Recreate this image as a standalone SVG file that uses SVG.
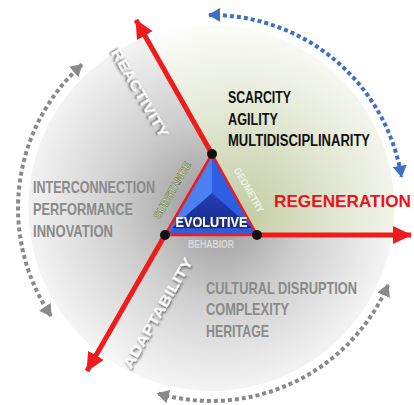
<svg xmlns="http://www.w3.org/2000/svg" width="414" height="405" viewBox="0 0 414 405">
<style>
.t{font-family:"Liberation Sans",Arial,sans-serif;font-weight:bold}
.dg{fill:none;stroke:#8a8a8a;stroke-width:4;stroke-dasharray:4 3}
.db{fill:none;stroke:#3f6fc6;stroke-width:4;stroke-dasharray:4 3}
.ra{stroke:#ee1c1c;stroke-width:5;fill:none}
</style>
<defs>
<radialGradient id="gG" gradientUnits="userSpaceOnUse" cx="240" cy="215" r="195">
<stop offset="0" stop-color="#c2cca2"/><stop offset="0.55" stop-color="#e4e9d6"/><stop offset="1" stop-color="#fdfdfb"/>
</radialGradient>
<radialGradient id="gL" gradientUnits="userSpaceOnUse" cx="205" cy="205" r="190">
<stop offset="0" stop-color="#9a9a9a"/><stop offset="0.45" stop-color="#cdcdcd"/><stop offset="1" stop-color="#f8f8f8"/>
</radialGradient>
<radialGradient id="gB" gradientUnits="userSpaceOnUse" cx="220" cy="220" r="185">
<stop offset="0" stop-color="#9a9a9a"/><stop offset="0.45" stop-color="#cfcfcf"/><stop offset="1" stop-color="#fafafa"/>
</radialGradient>
<linearGradient id="gD" x1="0" y1="0" x2="0" y2="1">
<stop offset="0" stop-color="#2440b8"/><stop offset="1" stop-color="#172a8a"/>
</linearGradient>
<marker id="mr" markerUnits="userSpaceOnUse" markerWidth="20" markerHeight="18" refX="18" refY="9" orient="auto">
<path d="M0,0 L19,9 L0,18 Z" fill="#ee1c1c"/>
</marker>
<marker id="mg" markerUnits="userSpaceOnUse" markerWidth="14" markerHeight="14" refX="11" refY="7" orient="auto-start-reverse">
<path d="M0,0 L12,7 L0,14 Z" fill="#8a8a8a"/>
</marker>
<marker id="mb" markerUnits="userSpaceOnUse" markerWidth="14" markerHeight="14" refX="11" refY="7" orient="auto-start-reverse">
<path d="M0,0 L12,7 L0,14 Z" fill="#3f6fc6"/>
</marker>
<filter id="sh" x="-20%" y="-50%" width="140%" height="200%">
<feDropShadow dx="-1" dy="1.5" stdDeviation="0.8" flood-color="#333" flood-opacity="0.8"/>
</filter>
</defs>
<rect width="414" height="405" fill="#ffffff"/>
<g id="sectors">
<path d="M212,154 L144.8,37.5 A183,183 0 0 1 392.3,235 L257,235 Z" fill="url(#gG)"/>
<path d="M165,235 L97.7,351.5 A183,183 0 0 1 144.8,37.5 L212,154 Z" fill="url(#gL)"/>
<path d="M257,235 L392.3,235 A183,183 0 0 1 97.7,351.5 L165,235 Z" fill="url(#gB)"/>
</g>
<g id="connectors">
<path class="ra" d="M212,154 L136,20" marker-end="url(#mr)"/>
<path class="ra" d="M257,235 L411,235" marker-end="url(#mr)"/>
<path class="ra" d="M165,235 L87,371" marker-end="url(#mr)"/>
<path class="dg" d="M51,315.9 A193,193 0 0 1 81.9,64.6" marker-start="url(#mg)" marker-end="url(#mg)"/>
<path class="db" d="M209,15 A193,193 0 0 1 401.5,176.8" marker-start="url(#mb)" marker-end="url(#mb)"/>
<path class="dg" d="M388,285 A193,193 0 0 1 157.8,393.5" marker-start="url(#mg)" marker-end="url(#mg)"/>
</g>
<g id="core">
<path d="M212,154 L257,235 L165,235 Z" fill="#2e5ee4"/>
<path d="M212,154 L212,193 L165,235 Z" fill="#4b80f2"/>
<path d="M212,193 L252,228 L172,228 Z" fill="url(#gD)"/>
<path d="M212,154 L257,235 L165,235 Z" fill="none" stroke="#ee1c1c" stroke-width="2.5" stroke-linejoin="round"/>
<circle cx="212" cy="154" r="5" fill="#111"/>
<circle cx="165" cy="235" r="5" fill="#111"/>
<circle cx="257" cy="235" r="5" fill="#111"/>
<text class="t" x="211.5" y="227" font-size="14" fill="#fff" text-anchor="middle" textLength="72" lengthAdjust="spacingAndGlyphs" filter="url(#sh)">EVOLUTIVE</text>
</g>
<g id="edge-labels">
<text class="t" transform="translate(172,190) rotate(-60)" x="0" y="4" font-size="11" fill="#d2e2ae" stroke="#3a4a20" stroke-width="0.35" text-anchor="middle" textLength="64" lengthAdjust="spacingAndGlyphs">SUBSTANCE</text>
<text class="t" transform="translate(249,190) rotate(60)" x="0" y="3.5" font-size="10" fill="#eef1e4" text-anchor="middle" textLength="50" lengthAdjust="spacingAndGlyphs">GEOMETRY</text>
<text class="t" x="211" y="248" font-size="10" fill="#dadada" text-anchor="middle" textLength="46" lengthAdjust="spacingAndGlyphs">BEHABIOR</text>
</g>
<g id="axis-labels">
<text class="t" transform="translate(140,93) rotate(60)" x="0" y="5.5" font-size="15" fill="#fff" text-anchor="middle" textLength="100" lengthAdjust="spacingAndGlyphs" filter="url(#sh)">REACTIVITY</text>
<text class="t" transform="translate(158,313) rotate(-60)" x="0" y="5.5" font-size="15" fill="#fff" text-anchor="middle" textLength="125" lengthAdjust="spacingAndGlyphs" filter="url(#sh)">ADAPTABILITY</text>
<text class="t" x="274" y="207" font-size="16.5" fill="#e8141b" textLength="137" lengthAdjust="spacingAndGlyphs">REGENERATION</text>
</g>
<g id="group-top-right">
<text class="t" x="228" y="103" font-size="16" fill="#111" textLength="63" lengthAdjust="spacingAndGlyphs">SCARCITY</text>
<text class="t" x="228" y="125" font-size="16" fill="#111" textLength="50" lengthAdjust="spacingAndGlyphs">AGILITY</text>
<text class="t" x="228" y="146" font-size="16" fill="#111" textLength="142" lengthAdjust="spacingAndGlyphs">MULTIDISCIPLINARITY</text>
</g>
<g id="group-left">
<text class="t" x="33" y="193" font-size="17" fill="#8a8a8a" textLength="122" lengthAdjust="spacingAndGlyphs">INTERCONNECTION</text>
<text class="t" x="33" y="215" font-size="17" fill="#8a8a8a" textLength="100" lengthAdjust="spacingAndGlyphs">PERFORMANCE</text>
<text class="t" x="33" y="237" font-size="17" fill="#8a8a8a" textLength="80" lengthAdjust="spacingAndGlyphs">INNOVATION</text>
</g>
<g id="group-bottom-right">
<text class="t" x="206" y="294" font-size="17" fill="#8a8a8a" textLength="151" lengthAdjust="spacingAndGlyphs">CULTURAL DISRUPTION</text>
<text class="t" x="206" y="315" font-size="17" fill="#8a8a8a" textLength="83" lengthAdjust="spacingAndGlyphs">COMPLEXITY</text>
<text class="t" x="206" y="337" font-size="17" fill="#8a8a8a" textLength="63" lengthAdjust="spacingAndGlyphs">HERITAGE</text>
</g>
</svg>
